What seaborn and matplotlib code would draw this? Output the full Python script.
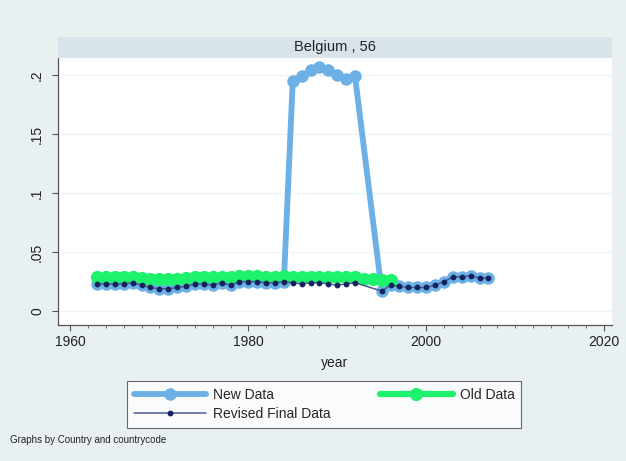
import matplotlib
matplotlib.use("Agg")
import matplotlib.pyplot as plt
import seaborn as sns
import pandas as pd
import numpy as np
from matplotlib.lines import Line2D
from matplotlib.patches import Rectangle

# ---- data ----
rev_years = list(range(1963, 1993)) + list(range(1995, 2008))
rev_vals = [0.023, 0.023, 0.023, 0.023, 0.024, 0.022, 0.020, 0.019, 0.019, 0.020,
            0.021, 0.023, 0.023, 0.022, 0.024, 0.022, 0.025, 0.025, 0.025, 0.024,
            0.024, 0.025, 0.024, 0.023, 0.024, 0.024, 0.023, 0.022, 0.023, 0.024,
            0.017, 0.022, 0.021, 0.020, 0.020, 0.020, 0.022, 0.025, 0.029, 0.029,
            0.030, 0.028, 0.028]

new_years = list(range(1963, 1993)) + list(range(1995, 2008))
new_vals = [0.023, 0.023, 0.023, 0.023, 0.024, 0.022, 0.020, 0.019, 0.019, 0.020,
            0.021, 0.023, 0.023, 0.022, 0.024, 0.022, 0.025, 0.025, 0.025, 0.024,
            0.024, 0.025, 0.195, 0.199, 0.204, 0.207, 0.204, 0.200, 0.197, 0.199,
            0.017, 0.022, 0.021, 0.020, 0.020, 0.020, 0.022, 0.025, 0.029, 0.029,
            0.030, 0.028, 0.028]

old_years = list(range(1963, 1997))
old_vals = [0.029, 0.029, 0.029, 0.029, 0.029, 0.028, 0.027, 0.027, 0.027, 0.027,
            0.028, 0.029, 0.029, 0.029, 0.029, 0.029, 0.030, 0.030, 0.030, 0.029,
            0.029, 0.030, 0.029, 0.029, 0.029, 0.029, 0.029, 0.029, 0.029, 0.029,
            0.027, 0.027, 0.026, 0.026]

x_ticks = [1960, 1980, 2000, 2020]
y_ticks = [0, 0.05, 0.1, 0.15, 0.2]
y_tick_labels = ["0", ".05", ".1", ".15", ".2"]
series_labels = ["New Data", "Old Data", "Revised Final Data"]
panel_title = "Belgium , 56"
x_label = "year"
note = "Graphs by Country and countrycode"

df_new = pd.DataFrame({"year": new_years, "value": new_vals})
df_old = pd.DataFrame({"year": old_years, "value": old_vals})
df_rev = pd.DataFrame({"year": rev_years, "value": rev_vals})

# ---- style ----
sns.set_theme(style="white")
plt.rcParams["font.family"] = ["Liberation Sans", "DejaVu Sans"]

BG = "#e9f0f2"
STRIP = "#d8e4ea"
C_NEW = "#6cb0e6"
C_OLD = "#1cf26c"
C_REV_M = "#15235e"
C_REV_L = "#4b5a96"

W, H = 626, 461
fig = plt.figure(figsize=(W / 100, H / 100), dpi=100, facecolor=BG)

left, right, top, bottom = 58, 612, 58, 325
ax = fig.add_axes([left / W, 1 - bottom / H, (right - left) / W, (bottom - top) / H])
ax.set_facecolor("white")

sns.lineplot(data=df_new, x="year", y="value", ax=ax, color=C_NEW, linewidth=4.2,
             marker="o", markersize=9, markeredgewidth=0, zorder=2, errorbar=None)
sns.lineplot(data=df_old, x="year", y="value", ax=ax, color=C_OLD, linewidth=4.5,
             marker="o", markersize=9.5, markeredgewidth=0, zorder=3, errorbar=None)
sns.lineplot(data=df_rev, x="year", y="value", ax=ax, color=C_REV_L, linewidth=1.1,
             zorder=4, errorbar=None)
ax.plot(rev_years, rev_vals, linestyle="none", marker="o", markersize=4.2,
        color=C_REV_M, markeredgewidth=0, zorder=5)

ax.set_xlim(1958.6, 2020.9)
ax.set_ylim(-0.0118, 0.2145)
ax.set_xticks(x_ticks)
ax.set_xticks(list(range(1960, 2021, 2)), minor=True)
ax.set_yticks(y_ticks)
ax.set_yticklabels(y_tick_labels, rotation=90, va="center")
ax.tick_params(axis="both", which="major", length=4, width=0.8, color="#555555",
               labelsize=10, labelcolor="#222222", direction="out", left=True, bottom=True)
ax.tick_params(axis="x", which="minor", length=2, width=0.6, color="#555555",
               direction="out", bottom=True)
ax.tick_params(axis="y", pad=6)
ax.tick_params(axis="x", pad=3)

for s in ["top", "right"]:
    ax.spines[s].set_visible(False)
for s in ["left", "bottom"]:
    ax.spines[s].set_color("#555555")
    ax.spines[s].set_linewidth(0.9)

ax.yaxis.grid(True, color="#eef3f5", linewidth=0.9)
ax.set_axisbelow(True)
ax.set_xlabel(x_label, fontsize=10, color="#222222", labelpad=5)
ax.set_ylabel("")

# strip title
fig.patches.append(Rectangle((left / W, 1 - top / H), (right - left) / W, 21 / H,
                             transform=fig.transFigure, facecolor=STRIP,
                             edgecolor="none", zorder=0))
fig.text((left + right) / 2 / W, 1 - (top - 10.5) / H, panel_title, ha="center",
         va="center", fontsize=10.5, color="#222222")

# legend
h_new = Line2D([], [], color=C_NEW, linewidth=4.2, marker="o", markersize=9, markeredgewidth=0)
h_old = Line2D([], [], color=C_OLD, linewidth=4.5, marker="o", markersize=9.5, markeredgewidth=0)
h_rev = Line2D([], [], color=C_REV_L, linewidth=1.1, marker="o", markersize=4.2,
               markerfacecolor=C_REV_M, markeredgewidth=0)
leg = fig.legend([h_new, h_rev, h_old],
                 [series_labels[0], series_labels[2], series_labels[1]],
                 ncol=2, loc="upper center", bbox_to_anchor=(324 / W, 1 - 374 / H),
                 frameon=True, fancybox=False, edgecolor="#444444", facecolor="white",
                 fontsize=10, handlelength=5.2, handletextpad=0.5, columnspacing=3.6,
                 labelspacing=0.35, borderpad=0.5)
leg.get_frame().set_linewidth(0.8)

fig.text(10 / W, 1 - 440 / H, note, fontsize=7, color="#222222", va="center", ha="left")

fig.savefig("out.png", dpi=100, facecolor=BG)
